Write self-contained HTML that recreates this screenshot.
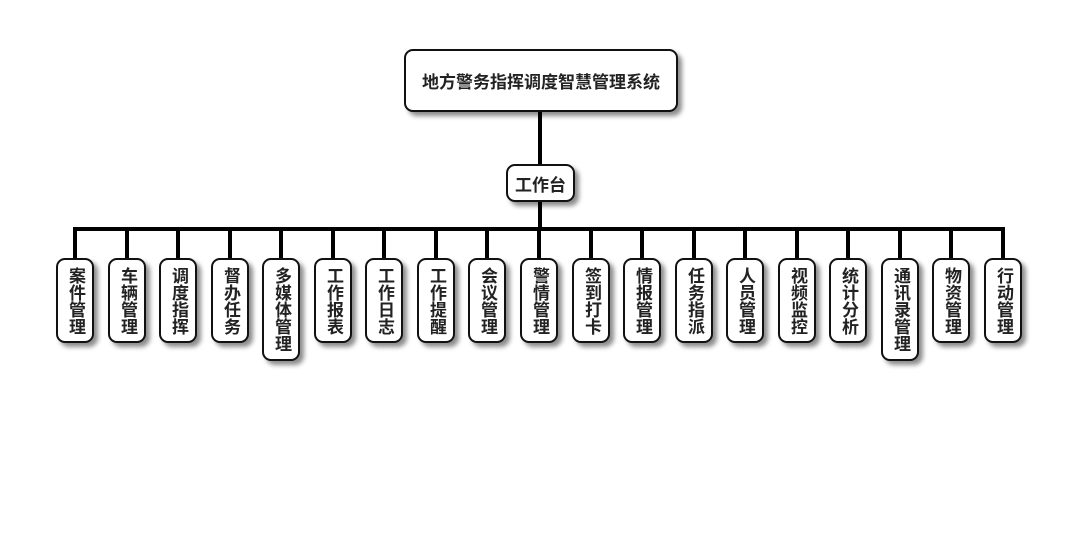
<!DOCTYPE html>
<html><head><meta charset="utf-8"><style>
body{margin:0;width:1080px;height:560px;background:#fff;position:relative;overflow:hidden;font-family:"Liberation Sans","Noto Sans CJK SC",sans-serif;}
.b{position:absolute;background:#fff;border:2px solid #111;border-radius:9px;box-shadow:4px 4px 5px rgba(0,0,0,0.45);box-sizing:border-box;font-weight:bold;color:#222;display:flex;align-items:center;justify-content:center;}
.l{width:38px;top:258px;height:85px;font-size:17px;line-height:18px;text-align:center;writing-mode:vertical-rl;text-orientation:upright;letter-spacing:0px;}
.l5{height:103px;}
svg{position:absolute;left:0;top:0;}
</style></head><body>
<svg width="1080" height="560">
<g stroke="#000" stroke-width="4" fill="none">
<line x1="540" y1="111" x2="540" y2="164"/>
<line x1="540" y1="201" x2="540" y2="229"/>
<line x1="75" y1="229" x2="1005" y2="229"/>
<line x1="75" y1="227" x2="75" y2="258"/>
<line x1="127" y1="229" x2="127" y2="258"/>
<line x1="178" y1="229" x2="178" y2="258"/>
<line x1="230" y1="229" x2="230" y2="258"/>
<line x1="281" y1="229" x2="281" y2="258"/>
<line x1="333" y1="229" x2="333" y2="258"/>
<line x1="384" y1="229" x2="384" y2="258"/>
<line x1="436" y1="229" x2="436" y2="258"/>
<line x1="487" y1="229" x2="487" y2="258"/>
<line x1="539" y1="229" x2="539" y2="258"/>
<line x1="591" y1="229" x2="591" y2="258"/>
<line x1="642" y1="229" x2="642" y2="258"/>
<line x1="694" y1="229" x2="694" y2="258"/>
<line x1="745" y1="229" x2="745" y2="258"/>
<line x1="797" y1="229" x2="797" y2="258"/>
<line x1="848" y1="229" x2="848" y2="258"/>
<line x1="900" y1="229" x2="900" y2="258"/>
<line x1="951" y1="229" x2="951" y2="258"/>
<line x1="1003" y1="227" x2="1003" y2="258"/>
</g></svg>
<div class="b" style="left:404px;top:49px;width:274px;height:63px;font-size:17px;">地方警务指挥调度智慧管理系统</div>
<div class="b" style="left:506px;top:164px;width:69px;height:38px;font-size:17px;">工作台</div>
<div class="b l" style="left:56px">案件管理</div>
<div class="b l" style="left:108px">车辆管理</div>
<div class="b l" style="left:159px">调度指挥</div>
<div class="b l" style="left:211px">督办任务</div>
<div class="b l l5" style="left:262px">多媒体管理</div>
<div class="b l" style="left:314px">工作报表</div>
<div class="b l" style="left:365px">工作日志</div>
<div class="b l" style="left:417px">工作提醒</div>
<div class="b l" style="left:468px">会议管理</div>
<div class="b l" style="left:520px">警情管理</div>
<div class="b l" style="left:572px">签到打卡</div>
<div class="b l" style="left:623px">情报管理</div>
<div class="b l" style="left:675px">任务指派</div>
<div class="b l" style="left:726px">人员管理</div>
<div class="b l" style="left:778px">视频监控</div>
<div class="b l" style="left:829px">统计分析</div>
<div class="b l l5" style="left:881px">通讯录管理</div>
<div class="b l" style="left:932px">物资管理</div>
<div class="b l" style="left:984px">行动管理</div>
</body></html>
